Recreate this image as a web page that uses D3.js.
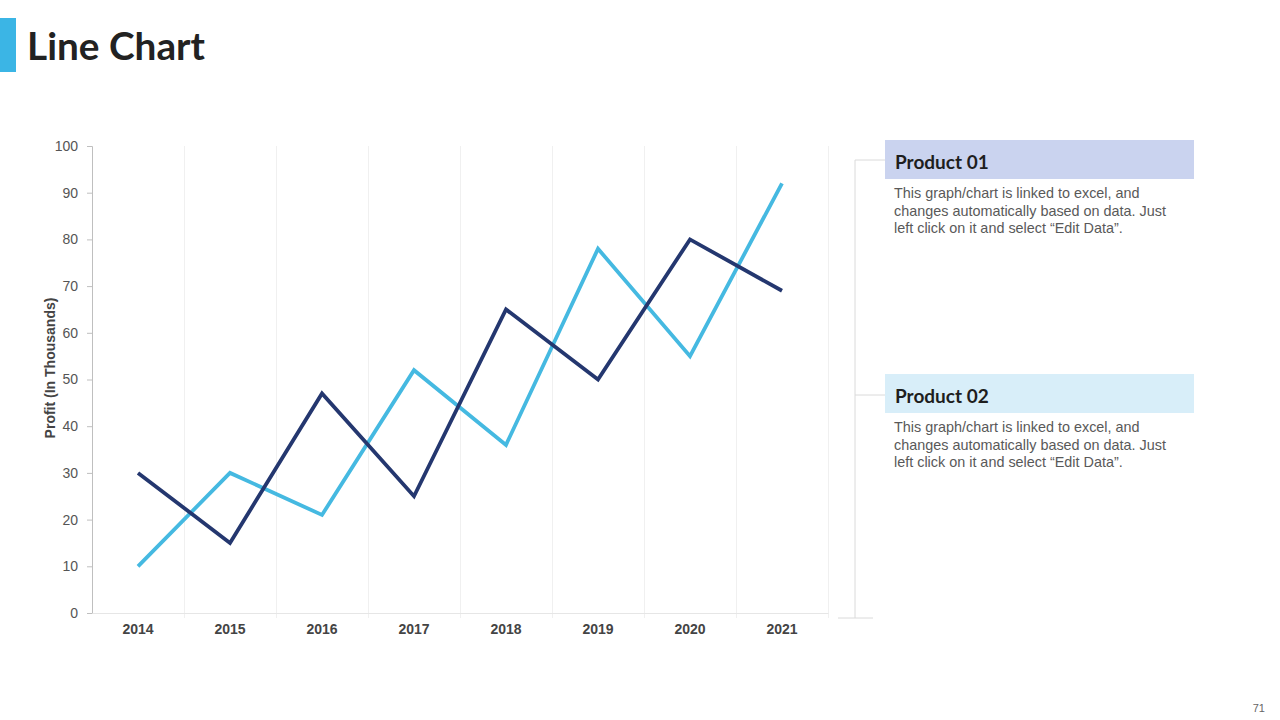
<!DOCTYPE html>
<html>
<head>
<meta charset="utf-8">
<script src="https://cdn.jsdelivr.net/npm/d3@7"></script>
<style>
  html, body { margin: 0; padding: 0; background: #fff; }
  svg { display: block; }
</style>
</head>
<body>
<svg id="chart" width="1280" height="720"></svg>
<script>
var years = ['2014', '2015', '2016', '2017', '2018', '2019', '2020', '2021'];
var product01 = [30, 15, 47, 25, 65, 50, 80, 69];
var product02 = [10, 30, 21, 52, 36, 78, 55, 92];
var yTicks = [0, 10, 20, 30, 40, 50, 60, 70, 80, 90, 100];
var seriesNames = ['Product 01', 'Product 02'];
var blurb = ['This graph/chart is linked to excel, and',
             'changes automatically based on data. Just',
             'left click on it and select \u201cEdit Data\u201d.'];

var svg = d3.select('#chart');

// title
svg.append('rect').attr('x', 0).attr('y', 18).attr('width', 16).attr('height', 54).attr('fill', '#3bb5e5');
svg.append('text').attr('x', 27).attr('y', 60)
  .attr('font-family', 'Lato, "DejaVu Sans", sans-serif').attr('font-weight', 'bold')
  .attr('font-size', 38).attr('fill', '#222')
  .attr('textLength', 178).attr('lengthAdjust', 'spacingAndGlyphs')
  .text('Line Chart');

svg.append('text').attr('x', 1265).attr('y', 712).attr('text-anchor', 'end')
  .attr('font-family', 'Liberation Sans, Arial, sans-serif').attr('font-size', 11)
  .attr('fill', '#666').text('71');

var plotL = 92, plotR = 828, plotT = 146, plotB = 613;

var x = d3.scaleBand().domain(years).range([plotL, plotR]);
var y = d3.scaleLinear().domain([0, 100]).range([plotB, plotT]);

var g = svg.append('g');

// vertical gridlines at band edges
g.selectAll('.vgrid').data(years).enter().append('line')
  .attr('x1', function(d) { return x(d) + x.bandwidth() + 0.5; })
  .attr('x2', function(d) { return x(d) + x.bandwidth() + 0.5; })
  .attr('y1', plotT).attr('y2', plotB + 5)
  .attr('stroke', '#f0f0f0').attr('stroke-width', 1);

// y axis
var yAxis = g.append('g').attr('transform', 'translate(' + plotL + ',0)')
  .call(d3.axisLeft(y).tickValues(yTicks).tickSize(5).tickPadding(9));
yAxis.select('.domain').attr('stroke', '#bfbfbf');
yAxis.selectAll('.tick line').attr('stroke', '#bfbfbf');
yAxis.selectAll('text').attr('font-family', 'Liberation Sans, Arial, sans-serif')
  .attr('font-size', 14).attr('fill', '#555');

// x axis
var xAxis = g.append('g').attr('transform', 'translate(0,' + plotB + ')')
  .call(d3.axisBottom(x).tickSize(0).tickPadding(11));
xAxis.select('.domain').attr('stroke', '#e6e6e6');
xAxis.selectAll('text').attr('font-family', 'Liberation Sans, Arial, sans-serif')
  .attr('font-size', 14).attr('font-weight', 'bold').attr('fill', '#444');

svg.append('text')
  .attr('transform', 'translate(55,368) rotate(-90)')
  .attr('text-anchor', 'middle')
  .attr('font-family', 'Liberation Sans, Arial, sans-serif').attr('font-size', 14)
  .attr('font-weight', 'bold').attr('fill', '#444')
  .text('Profit (In Thousands)');

var line = d3.line()
  .x(function(d, i) { return x(years[i]) + x.bandwidth() / 2; })
  .y(function(d) { return y(d); });

g.append('path').datum(product02).attr('d', line)
  .attr('fill', 'none').attr('stroke', '#45b9e1').attr('stroke-width', 3.8)
  .attr('stroke-linejoin', 'miter');
g.append('path').datum(product01).attr('d', line)
  .attr('fill', 'none').attr('stroke', '#24376f').attr('stroke-width', 3.8)
  .attr('stroke-linejoin', 'miter');

// legend bracket
var br = svg.append('g').attr('stroke', '#dadada').attr('stroke-width', 1).attr('fill', 'none');
br.append('line').attr('x1', 855).attr('x2', 855).attr('y1', 160).attr('y2', 618);
br.append('line').attr('x1', 855).attr('x2', 885).attr('y1', 160).attr('y2', 160);
br.append('line').attr('x1', 855).attr('x2', 885).attr('y1', 395).attr('y2', 395);
br.append('line').attr('x1', 838).attr('x2', 873).attr('y1', 618).attr('y2', 618);

var boxes = [{ y: 140, fill: '#cad3ef' }, { y: 374, fill: '#d8eef9' }];
boxes.forEach(function(b, i) {
  svg.append('rect').attr('x', 885).attr('y', b.y).attr('width', 309).attr('height', 39)
    .attr('fill', b.fill);
  svg.append('text').attr('x', 895).attr('y', b.y + 29)
    .attr('font-family', 'Lato, "DejaVu Sans", sans-serif').attr('font-weight', 'bold')
    .attr('font-size', 19).attr('fill', '#1e1e1e').text(seriesNames[i]);
  var t = svg.append('text').attr('font-family', 'Liberation Sans, Arial, sans-serif')
    .attr('font-size', 14.4).attr('fill', '#595959');
  blurb.forEach(function(s, j) {
    t.append('tspan').attr('x', 894).attr('y', b.y + 58 + j * 17.5).text(s);
  });
});
</script>
</body>
</html>
